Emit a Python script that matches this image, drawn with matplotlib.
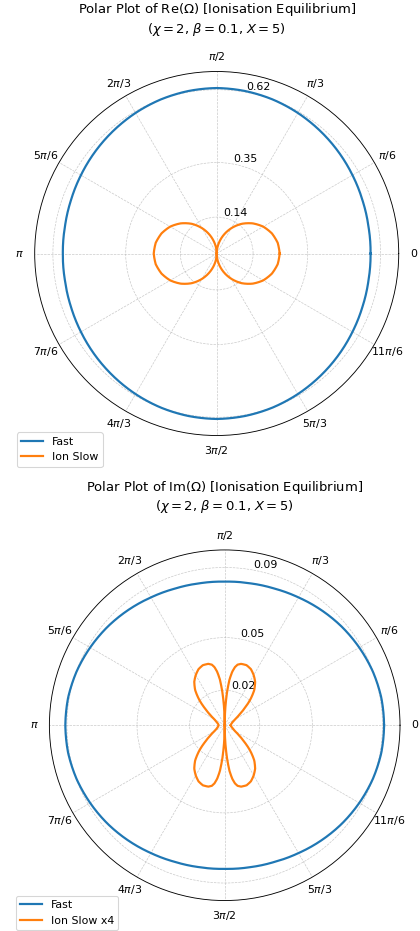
import numpy as np
import matplotlib
matplotlib.use("Agg")
import matplotlib.pyplot as plt

# --- data (angles in degrees, radii) ---
THETA_10 = [0, 10, 20, 30, 40, 50, 60, 70, 80, 90, 100, 110, 120, 130, 140, 150, 160, 170, 180,
            190, 200, 210, 220, 230, 240, 250, 260, 270, 280, 290, 300, 310, 320, 330, 340, 350, 360]

re_fast = [0.584, 0.585, 0.589, 0.595, 0.602, 0.609, 0.616, 0.622, 0.626, 0.628,
           0.626, 0.622, 0.616, 0.609, 0.602, 0.595, 0.589, 0.585, 0.584,
           0.585, 0.589, 0.595, 0.602, 0.609, 0.616, 0.622, 0.626, 0.628,
           0.626, 0.622, 0.616, 0.609, 0.602, 0.595, 0.589, 0.585, 0.584]
re_slow = [0.239, 0.235, 0.223, 0.204, 0.178, 0.147, 0.111, 0.073, 0.035, 0.0,
           0.035, 0.073, 0.111, 0.147, 0.178, 0.204, 0.223, 0.235, 0.239,
           0.235, 0.223, 0.204, 0.178, 0.147, 0.111, 0.073, 0.035, 0.0,
           0.035, 0.073, 0.111, 0.147, 0.178, 0.204, 0.223, 0.235, 0.239]

im_fast = [0.0880, 0.0878, 0.0870, 0.0858, 0.0845, 0.0830, 0.0815, 0.0803, 0.0796, 0.0793,
           0.0796, 0.0803, 0.0815, 0.0830, 0.0845, 0.0858, 0.0870, 0.0878, 0.0880,
           0.0878, 0.0870, 0.0858, 0.0845, 0.0830, 0.0815, 0.0803, 0.0796, 0.0793,
           0.0796, 0.0803, 0.0815, 0.0830, 0.0845, 0.0858, 0.0870, 0.0878, 0.0880]

im_slow_theta = [0, 10, 20, 25, 30, 35, 40, 45, 50, 55, 60, 65, 70, 75, 78, 80, 82, 84, 86, 88, 90,
                 92, 94, 96, 98, 100, 102, 105, 110, 115, 120, 125, 130, 135, 140, 145, 150, 155, 160, 170, 180,
                 190, 200, 205, 210, 215, 220, 225, 230, 235, 240, 245, 250, 255, 258, 260, 262, 264, 266, 268, 270,
                 272, 274, 276, 278, 280, 282, 285, 290, 295, 300, 305, 310, 315, 320, 325, 330, 335, 340, 350, 360]
im_slow = [0.0033, 0.0036, 0.0044, 0.0052, 0.0066, 0.0094, 0.0138, 0.0199, 0.0254, 0.0293, 0.0320,
           0.0342, 0.0353, 0.0351, 0.0342, 0.0326, 0.0298, 0.0254, 0.0182, 0.0094, 0.0,
           0.0094, 0.0182, 0.0254, 0.0298, 0.0326, 0.0342, 0.0351, 0.0353, 0.0342, 0.0320,
           0.0293, 0.0254, 0.0199, 0.0138, 0.0094, 0.0066, 0.0052, 0.0044, 0.0036, 0.0033,
           0.0036, 0.0044, 0.0052, 0.0066, 0.0094, 0.0138, 0.0199, 0.0254, 0.0293, 0.0320,
           0.0342, 0.0353, 0.0351, 0.0342, 0.0326, 0.0298, 0.0254, 0.0182, 0.0094, 0.0,
           0.0094, 0.0182, 0.0254, 0.0298, 0.0326, 0.0342, 0.0351, 0.0353, 0.0342, 0.0320,
           0.0293, 0.0254, 0.0199, 0.0138, 0.0094, 0.0066, 0.0052, 0.0044, 0.0036, 0.0033]

XTICK_LABELS = ["0", r"$\pi/6$", r"$\pi/3$", r"$\pi/2$", r"$2\pi/3$", r"$5\pi/6$", r"$\pi$",
                r"$7\pi/6$", r"$4\pi/3$", r"$3\pi/2$", r"$5\pi/3$", r"$11\pi/6$"]
SUB = r"($\chi=2$, $\beta=0.1$, $X=5$)"

DPI = 79


def polar_line(ax, theta_deg, r, color, label):
    line, = ax.plot(np.deg2rad(theta_deg), r, color=color, lw=2, label=label)
    # let the polar transform draw curved segments between the read points
    line.get_path()._interpolation_steps = 40
    return line


def style_polar(ax, rmax):
    ax.set_ylim(0, rmax)
    ticks = [0.2 * rmax, 0.5 * rmax, 0.9 * rmax]
    ax.set_yticks(ticks)
    ax.set_yticklabels([f"{t:.2f}" for t in ticks])
    ax.set_xticks(np.deg2rad(np.arange(0, 360, 30)))
    ax.set_xticklabels(XTICK_LABELS)
    ax.tick_params(axis="x", pad=3)
    ax.set_rlabel_position(79.5)
    ax.grid(True, linestyle="--", linewidth=0.6, color="#b0b0b0", alpha=0.7)


fig = plt.figure(figsize=(420.01 / DPI, 931.01 / DPI), dpi=DPI)

# --- Re(Omega) ---
ax1 = fig.add_axes([0.0826, 0.5322, 0.8667, 0.391], projection="polar")
polar_line(ax1, THETA_10, re_fast, "C0", "Fast")
polar_line(ax1, THETA_10, re_slow, "C1", "Ion Slow")
style_polar(ax1, 1.1 * max(re_fast))
ax1.set_title("Polar Plot of Re($\\Omega$) [Ionisation Equilibrium]\n" + SUB,
              fontsize=12, y=1.107, pad=0)
ax1.legend(loc="lower left", bbox_to_anchor=(0.0398, 0.4987), bbox_transform=fig.transFigure,
           borderaxespad=0)

# --- Im(Omega) ---
ax2 = fig.add_axes([0.1176, 0.0327, 0.8348, 0.3766], projection="polar")
polar_line(ax2, THETA_10, im_fast, "C0", "Fast")
polar_line(ax2, im_slow_theta, im_slow, "C1", "Ion Slow x4")
style_polar(ax2, 1.1 * max(im_fast))
ax2.set_title("Polar Plot of Im($\\Omega$) [Ionisation Equilibrium]\n" + SUB,
              fontsize=12, y=1.114, pad=0)
ax2.legend(loc="lower left", bbox_to_anchor=(0.0374, 0.0011), bbox_transform=fig.transFigure,
           borderaxespad=0)

fig.savefig("out.png", dpi=DPI)
